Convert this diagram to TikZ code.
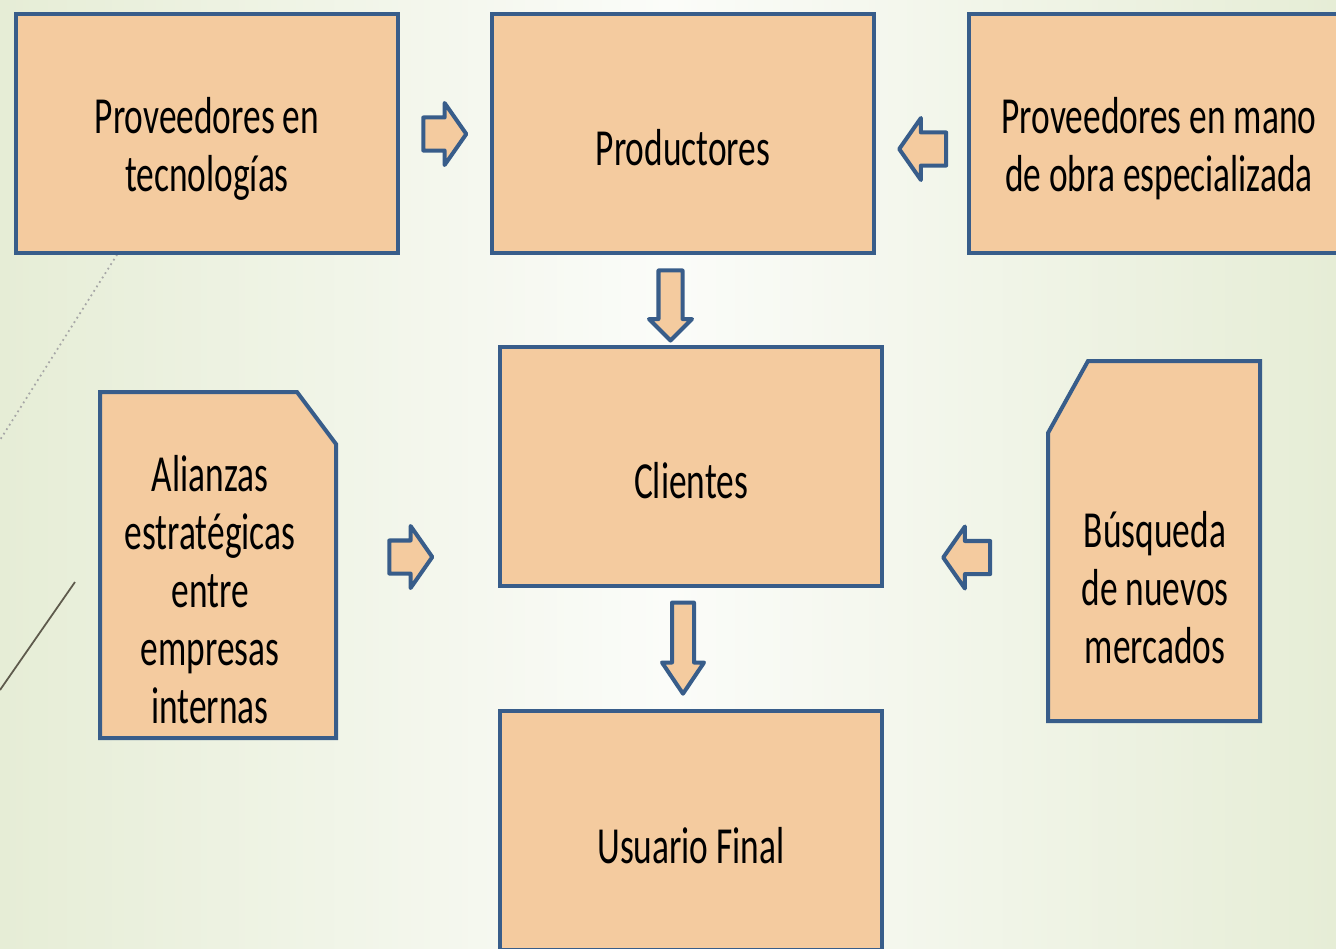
\documentclass[tikz,border=0pt]{standalone}
\usepackage{fontspec}
\setmainfont[FakeStretch=0.68]{Carlito}
\usetikzlibrary{shapes.arrows}
\definecolor{peach}{HTML}{F4CB9F}
\definecolor{edge}{HTML}{385D8A}
\definecolor{bgside}{HTML}{E6EDD6}
\definecolor{bgmid}{HTML}{FBFCF9}
\definecolor{decoline}{HTML}{5E5A4C}

\begin{document}
\begin{tikzpicture}[x=0.01cm, y=-0.01cm,
  panel/.style={draw=edge, fill=peach, line width=0.04cm},
  box/.style={panel, minimum width=3.82cm, minimum height=2.39cm, inner sep=0},
  txt/.style={align=center, font=\fontsize{14.8}{16.5}\selectfont},
  barrow/.style={panel, single arrow, line join=round, inner sep=0, single arrow head indent=0},
  harrow/.style={barrow, inner ysep=0.145cm, single arrow head extend=0.145cm, single arrow tip angle=110, minimum height=0.43cm}]

\useasboundingbox (0, 0) rectangle (1336, 948);
\clip (0, 0) rectangle (1336, 948);
\shade [left color=bgside, right color=bgside, middle color=bgmid] (0, 0) rectangle (1336, 948);

\draw [gray!70, densely dotted, line width=0.5pt] (120, 250) -- (0, 440);
\draw [decoline, line width=0.5pt] (75, 582) -- (0, 690);

\node[box] (tec) at (207, 133.5) {};
\node[box] (prod) at (683, 133.5) {};
\node[box] (mano) at (1160, 133.5) {};
\node[box] (cli) at (691, 466.5) {};
\node[box] (usu) at (691, 830.5) {};
\draw [panel] (100, 392) -- (297, 392) -- (336, 444) -- (336, 738) -- (100, 738) -- cycle;
\draw [panel] (1088, 361) -- (1260, 361) -- (1260, 721) -- (1048, 721) -- (1048, 433) -- cycle;

\node[txt] (tectxt) at (207, 149) {Proveedores en\\tecnologías};
\node[txt] (prodtxt) at (683, 148) {Productores};
\node[txt] (manotxt) at (1159, 149) {Proveedores en mano\\de obra especializada};
\node[txt] (clitxt) at (691, 481) {Clientes};
\node[txt] (usutxt) at (691, 846) {Usuario Final};
\node[txt] (alitxt) at (210, 590) {Alianzas\\estratégicas\\entre\\empresas\\internas};
\node[txt] (bustxt) at (1155, 588) {Búsqueda\\de nuevos\\mercados};

\node[harrow] (tecprod) at (439, 134) {};
\node[harrow, rotate=180, minimum height=0.47cm] (manoprod) at (928.5, 149) {};
\node[barrow, rotate=-90, inner ysep=0.10cm, single arrow head extend=0.095cm, single arrow tip angle=90, minimum height=0.70cm] (prodcli) at (670.5, 299.5) {};
\node[harrow] (alicli) at (405, 557) {};
\node[harrow, rotate=180, minimum height=0.47cm] (buscli) at (972.5, 557.5) {};
\node[barrow, rotate=-90, inner ysep=0.09cm, single arrow head extend=0.10cm, single arrow tip angle=68, minimum height=0.91cm] (cliusu) at (683, 640) {};

\end{tikzpicture}
\end{document}
